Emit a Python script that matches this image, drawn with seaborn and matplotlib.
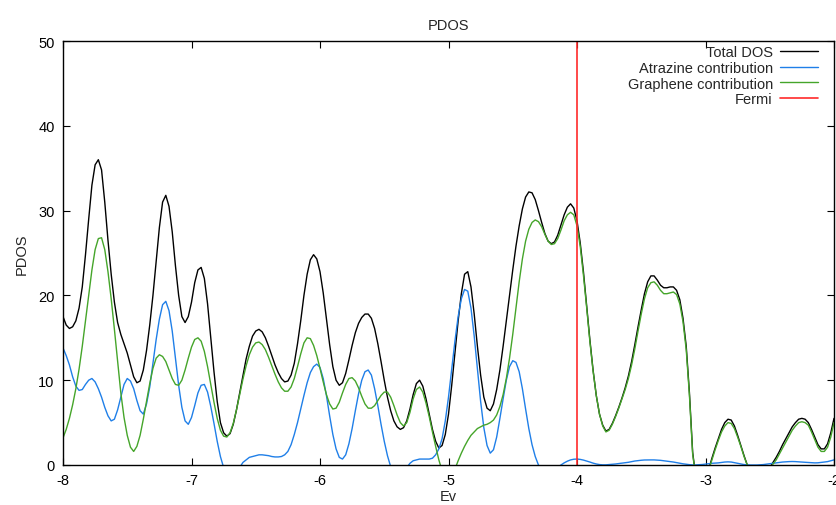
import matplotlib
matplotlib.use("Agg")
import matplotlib.pyplot as plt
import numpy as np
import seaborn as sns

# energy sampling grid (eV), step 0.025 from -8 to -2
energy = np.linspace(-8.0, -2.0, 241)

total_dos = [
    17.5, 16.5, 16.1, 16.3, 17.0, 18.5, 21.0, 24.8, 29.0, 33.0,
    35.4, 36.0, 34.8, 31.0, 26.5, 22.5, 19.2, 16.8, 15.4, 14.3,
    13.2, 11.8, 10.4, 9.7, 9.9, 11.2, 13.5, 16.5, 20.0, 24.0,
    28.0, 31.0, 31.8, 30.5, 27.5, 23.5, 20.0, 17.5, 16.8, 17.5,
    19.2, 21.5, 23.0, 23.3, 22.0, 19.0, 15.0, 11.0, 7.5, 5.0,
    3.8, 3.4, 3.7, 4.8, 6.5, 8.5, 10.5, 12.5, 14.0, 15.2,
    15.8, 16.0, 15.7, 15.0, 14.0, 12.9, 11.8, 10.9, 10.2, 9.8,
    9.9, 10.6, 12.0, 14.3, 17.0, 20.0, 22.5, 24.2, 24.8, 24.3,
    22.8, 20.3, 17.3, 14.2, 11.6, 10.0, 9.4, 9.7, 10.8, 12.4,
    14.1, 15.6, 16.7, 17.4, 17.8, 17.8, 17.3, 16.1, 14.3, 12.2,
    10.0, 8.0, 6.4, 5.2, 4.5, 4.2, 4.4, 5.2, 6.6, 8.3,
    9.6, 10.0, 9.3, 7.8, 6.0, 4.2, 2.8, 2.0, 2.3, 3.6,
    6.0, 9.4, 13.2, 17.0, 20.2, 22.5, 22.8, 21.0, 17.8, 14.0,
    10.6, 8.0, 6.7, 6.4, 7.2, 8.9, 11.2, 14.0, 17.0, 20.0,
    23.0, 25.8, 28.2, 30.2, 31.6, 32.2, 32.1, 31.3, 30.0, 28.6,
    27.3, 26.4, 26.1, 26.3, 27.1, 28.3, 29.5, 30.4, 30.8, 30.3,
    28.8, 26.2, 22.8, 18.8, 14.8, 11.2, 8.2, 6.0, 4.7, 4.0,
    4.2, 4.9, 5.8, 6.8, 7.9, 9.1, 10.5, 12.2, 14.2, 16.3,
    18.3, 20.2, 21.6, 22.3, 22.3, 21.8, 21.2, 20.9, 20.9, 21.0,
    21.0, 20.6, 19.5, 17.3, 14.0, 8.5, 1.5, -1.5, -3.0, -3.0,
    -2.0, -0.5, 0.8, 2.0, 3.1, 4.2, 5.0, 5.4, 5.3, 4.6,
    3.5, 2.3, 1.1, 0.0, -1.0, -1.6, -2.0, -1.9, -1.5, -0.9,
    -0.3, 0.3, 0.9, 1.6, 2.4, 3.1, 3.8, 4.5, 5.0, 5.4,
    5.5, 5.4, 5.0, 4.2, 3.3, 2.4, 1.9, 1.9, 2.5, 3.8,
    5.5]

atrazine = [
    13.8, 12.9, 11.8, 10.4, 9.3, 8.8, 8.9, 9.5, 10.0, 10.2,
    9.8, 9.0, 8.0, 6.8, 5.8, 5.2, 5.4, 6.5, 8.0, 9.5,
    10.2, 9.9, 9.0, 7.6, 6.4, 6.0, 7.2, 9.2, 12.0, 14.8,
    17.2, 18.9, 19.3, 18.2, 15.8, 12.6, 9.4, 6.8, 5.2, 4.8,
    5.6, 7.0, 8.5, 9.4, 9.5, 8.6, 6.9, 4.9, 2.8, 1.0,
    -0.3, -1.3, -1.8, -1.8, -1.2, -0.3, 0.3, 0.6, 0.9, 1.0,
    1.1, 1.2, 1.2, 1.15, 1.1, 1.0, 0.95, 0.95, 1.0, 1.2,
    1.6, 2.4, 3.6, 5.0, 6.6, 8.2, 9.7, 10.9, 11.6, 11.9,
    11.5, 10.2, 8.2, 5.8, 3.6, 1.9, 0.9, 0.7, 1.2, 2.5,
    4.3, 6.4, 8.4, 10.0, 11.0, 11.2, 10.6, 9.0, 7.0, 4.8,
    2.8, 1.1, -0.2, -1.1, -1.5, -1.4, -0.9, -0.3, 0.2, 0.5,
    0.6, 0.7, 0.7, 0.7, 0.7, 0.8, 1.2, 1.9, 3.1, 5.2,
    8.0, 11.3, 14.6, 17.5, 19.6, 20.7, 20.5, 18.5, 15.2, 11.3,
    7.5, 4.4, 2.3, 1.4, 1.8, 3.3, 5.5, 7.8, 10.0, 11.6,
    12.3, 12.1, 11.0, 9.0, 6.6, 4.3, 2.4, 1.0, 0.0, -0.7,
    -1.0, -1.1, -1.0, -0.7, -0.3, 0.0, 0.25, 0.45, 0.6, 0.68,
    0.7, 0.66, 0.58, 0.47, 0.35, 0.22, 0.12, 0.05, 0.02, 0.02,
    0.05, 0.08, 0.12, 0.17, 0.22, 0.27, 0.32, 0.4, 0.47, 0.52,
    0.56, 0.59, 0.6, 0.6, 0.6, 0.58, 0.55, 0.5, 0.45, 0.4,
    0.35, 0.28, 0.2, 0.14, 0.09, 0.04, 0.01, 0.01, 0.03, 0.06,
    0.1, 0.15, 0.2, 0.22, 0.25, 0.3, 0.35, 0.37, 0.35, 0.28,
    0.2, 0.12, 0.05, 0.02, 0.0, 0.0, 0.0, 0.02, 0.05, 0.1,
    0.15, 0.2, 0.25, 0.3, 0.35, 0.38, 0.4, 0.41, 0.4, 0.37,
    0.35, 0.32, 0.3, 0.27, 0.25, 0.26, 0.3, 0.35, 0.4, 0.5,
    0.6]

graphene = [
    3.2, 4.2, 5.5, 7.1, 9.0, 11.3, 14.0, 17.0, 20.0, 23.0,
    25.4, 26.7, 26.8, 25.4, 22.8, 19.6, 16.0, 12.2, 8.5, 5.6,
    3.5, 2.1, 1.6, 2.2, 3.5, 5.4, 7.5, 9.6, 11.4, 12.6,
    13.0, 12.8, 12.2, 11.2, 10.2, 9.5, 9.4, 10.0, 11.2, 12.6,
    13.9, 14.8, 15.0, 14.6, 13.4, 11.6, 9.5, 7.4, 5.5, 4.1,
    3.4, 3.3, 3.8, 4.9, 6.5, 8.3, 10.1, 11.7, 13.0, 13.9,
    14.4, 14.5, 14.2, 13.6, 12.7, 11.7, 10.7, 9.8, 9.1, 8.7,
    8.7, 9.2, 10.2, 11.6, 13.1, 14.4, 15.0, 14.9, 14.1, 12.9,
    11.4, 9.8, 8.3, 7.2, 6.6, 6.7, 7.4, 8.5, 9.5, 10.2,
    10.3, 9.9, 9.1, 8.1, 7.2, 6.7, 6.7, 7.0, 7.6, 8.2,
    8.6, 8.6, 8.0, 7.0, 5.9, 5.0, 4.6, 5.0, 6.2, 7.8,
    8.9, 9.2, 8.6, 7.3, 5.7, 3.9, 2.2, 0.6, -0.7, -1.7,
    -2.0, -1.6, -0.5, 0.5, 1.4, 2.2, 2.9, 3.5, 3.9, 4.3,
    4.5, 4.7, 4.8, 5.0, 5.3, 5.9, 6.9, 8.3, 10.2, 12.6,
    15.4, 18.5, 21.6, 24.3, 26.4, 27.8, 28.6, 28.9, 28.7, 28.1,
    27.2, 26.4, 26.0, 26.1, 26.7, 27.7, 28.8, 29.5, 29.8, 29.5,
    28.2, 25.8, 22.4, 18.6, 14.6, 11.1, 8.2, 6.0, 4.6, 3.9,
    4.1, 4.8, 5.7, 6.7, 7.8, 8.9, 10.2, 11.8, 13.7, 15.8,
    17.8, 19.6, 20.9, 21.5, 21.6, 21.2, 20.6, 20.2, 20.2, 20.3,
    20.4, 20.1, 19.0, 16.9, 13.6, 8.2, 1.3, -1.5, -3.0, -3.0,
    -2.0, -0.6, 0.6, 1.8, 2.9, 3.9, 4.6, 5.0, 4.9, 4.3,
    3.3, 2.2, 1.0, 0.0, -1.0, -1.6, -2.0, -1.9, -1.5, -1.0,
    -0.4, 0.1, 0.6, 1.3, 2.0, 2.7, 3.4, 4.1, 4.6, 5.0,
    5.1, 5.0, 4.7, 3.9, 3.0, 2.1, 1.6, 1.6, 2.1, 3.3,
    5.0]

fermi_level = -4.0
series_labels = ["Total DOS", "Atrazine contribution", "Graphene contribution", "Fermi"]
x_ticks = [-8, -7, -6, -5, -4, -3, -2]
y_ticks = [0, 10, 20, 30, 40, 50]

sns.set_style("ticks")
plt.rcParams["font.family"] = ["Liberation Sans", "DejaVu Sans"]
plt.rcParams["axes.unicode_minus"] = False

W, H = 837, 506
L, R, T, B = 63, 834, 42, 466
fig = plt.figure(figsize=(W / 100, H / 100), dpi=100)
ax = fig.add_axes([L / W, 1 - B / H, (R - L) / W, (B - T) / H])

c_black = "#000000"
c_blue = "#1f7fe8"
c_green = "#45a52a"
c_red = "#ff2a2a"

sns.lineplot(x=energy, y=total_dos, ax=ax, color=c_black, lw=1.0, label=series_labels[0])
sns.lineplot(x=energy, y=atrazine, ax=ax, color=c_blue, lw=1.0, label=series_labels[1])
sns.lineplot(x=energy, y=graphene, ax=ax, color=c_green, lw=1.0, label=series_labels[2])
ax.axvline(fermi_level, color=c_red, lw=1.2, label=series_labels[3])

ax.set_xlim(-8, -2)
ax.set_ylim(0, 50)
ax.set_xticks(x_ticks)
ax.set_xticklabels([str(t) for t in x_ticks])
ax.set_yticks(y_ticks)
ax.tick_params(direction="in", top=True, right=True, length=5, width=0.8,
               labelsize=10.5, colors="black", pad=6)
for s in ax.spines.values():
    s.set_linewidth(1.0)
    s.set_color("black")

ax.set_title("PDOS", fontsize=10.5, pad=9)
ax.set_xlabel("Ev", fontsize=10.5, labelpad=1)
ax.set_ylabel("PDOS", fontsize=10.5, labelpad=7)

anchor_x = (818 - L) / (R - L)
anchor_y = (B - 46) / (B - T)
leg = ax.legend(loc="upper right", bbox_to_anchor=(anchor_x, anchor_y),
                frameon=False, markerfirst=False, fontsize=10.5,
                handlelength=2.6, handletextpad=0.5, labelspacing=0.12,
                borderpad=0.0, borderaxespad=0.0)

fig.savefig("out.png", dpi=100)
